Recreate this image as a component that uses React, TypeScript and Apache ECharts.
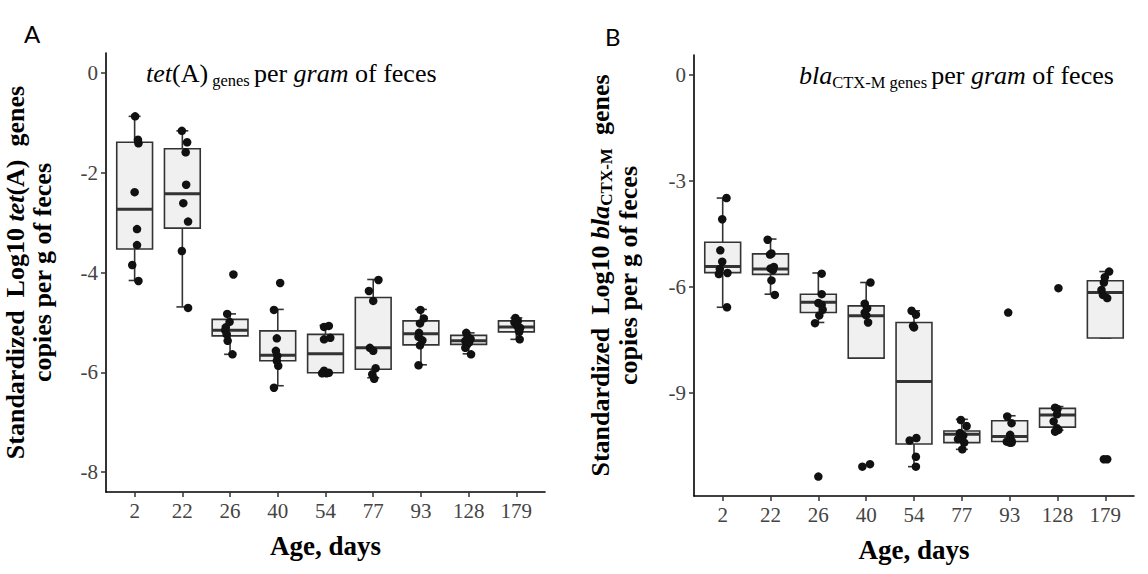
import React, { useEffect, useRef } from 'react';
import * as echarts from 'echarts';

const days = ['2', '22', '26', '40', '54', '77', '93', '128', '179'];

// Panel A: tet(A) box statistics
const aMin = [-4.16, -4.69, -5.64, -6.27, -6.02, -6.11, -5.85, -5.63, -5.34];
const aQ1 = [-3.53, -3.11, -5.27, -5.77, -6.01, -5.94, -5.45, -5.44, -5.19];
const aMed = [-2.73, -2.42, -5.16, -5.66, -5.63, -5.51, -5.23, -5.37, -5.09];
const aQ3 = [-1.39, -1.52, -4.94, -5.17, -5.24, -4.5, -4.97, -5.26, -4.97];
const aMax = [-0.87, -1.16, -4.83, -4.74, -5.06, -4.14, -4.74, -5.21, -4.91];

const aPoints = [
  [-0.87, -1.34, -1.41, -2.39, -3.13, -3.45, -3.85, -4.17],
  [-1.16, -1.39, -1.59, -2.24, -2.61, -2.98, -3.57, -4.71],
  [-4.04, -4.83, -4.99, -5.1, -5.16, -5.24, -5.37, -5.64],
  [-4.21, -4.75, -5.32, -5.57, -5.67, -5.77, -5.87, -6.31],
  [-5.09, -5.07, -5.34, -5.31, -5.97, -6.02, -6.01, -6.02],
  [-4.15, -4.37, -4.57, -5.51, -5.57, -5.92, -6.04, -6.13],
  [-4.75, -4.92, -5.02, -5.21, -5.29, -5.36, -5.46, -5.86],
  [-5.21, -5.29, -5.33, -5.37, -5.4, -5.44, -5.51, -5.64],
  [-4.91, -4.97, -5.0, -5.06, -5.11, -5.14, -5.19, -5.34],
];
const aJitter = [
  [0.01, 0.07, 0.08, 0.0, 0.05, 0.05, -0.05, 0.08],
  [-0.01, 0.1, 0.07, 0.08, 0.02, 0.12, -0.01, 0.12],
  [0.07, -0.06, -0.01, -0.09, -0.1, -0.07, -0.05, 0.05],
  [0.05, -0.08, -0.02, -0.04, -0.01, -0.02, 0.01, -0.08],
  [-0.03, 0.07, -0.03, 0.1, -0.03, 0.02, 0.07, -0.07],
  [0.11, -0.09, 0.0, -0.07, 0.0, 0.05, -0.02, 0.02],
  [-0.01, 0.06, -0.02, -0.04, -0.05, 0.03, -0.02, -0.05],
  [-0.05, -0.02, 0.04, -0.07, 0.01, -0.03, -0.07, 0.05],
  [-0.02, 0.03, -0.04, 0.01, 0.08, 0.05, 0.06, 0.07],
];

// Panel B: blaCTX-M box statistics
const bMin = [-6.57, -6.2, -7.0, -8.01, -11.08, -10.59, -10.4, -10.05, -7.44];
const bQ1 = [-5.59, -5.64, -6.72, -8.01, -10.44, -10.4, -10.37, -9.96, -7.44];
const bMed = [-5.42, -5.49, -6.43, -6.81, -8.67, -10.16, -10.23, -9.62, -6.15];
const bQ3 = [-4.73, -5.06, -6.2, -6.53, -7.0, -10.07, -9.78, -9.43, -5.82];
const bMax = [-3.48, -4.64, -5.6, -5.87, -6.67, -9.74, -9.64, -9.38, -5.56];

const bPoints = [
  [-3.48, -4.08, -4.96, -5.28, -5.49, -5.6, -5.63, -6.57],
  [-4.66, -5.05, -5.08, -5.43, -5.47, -5.52, -5.81, -6.22],
  [-5.62, -6.2, -6.45, -6.5, -6.64, -6.8, -7.02, -11.36],
  [-5.87, -6.47, -6.6, -6.72, -6.8, -7.0, -11.01, -11.08],
  [-6.67, -6.78, -7.1, -7.14, -10.27, -10.34, -10.8, -11.08],
  [-9.76, -9.93, -10.13, -10.2, -10.27, -10.3, -10.4, -10.59],
  [-6.72, -9.66, -9.85, -10.18, -10.35, -10.37, -10.4, -10.4],
  [-6.03, -9.41, -9.45, -9.6, -9.8, -9.99, -10.04, -10.09],
  [-5.56, -5.72, -5.87, -6.08, -6.22, -6.31, -10.87, -10.87],
];
const bJitter = [
  [0.08, -0.01, -0.05, -0.01, -0.06, 0.1, -0.08, 0.09],
  [-0.06, 0.02, -0.01, 0.07, 0.0, 0.05, 0.02, 0.09],
  [0.07, 0.07, 0.0, 0.07, 0.09, 0.02, -0.07, 0.0],
  [0.09, -0.03, 0.02, -0.03, 0.0, 0.04, 0.08, -0.08],
  [-0.05, 0.04, -0.02, 0.0, 0.05, -0.09, 0.04, 0.04],
  [-0.02, 0.1, -0.04, 0.03, -0.01, -0.08, 0.05, 0.01],
  [-0.03, -0.05, 0.04, 0.01, 0.04, -0.06, 0.0, 0.04],
  [0.02, -0.05, 0.0, -0.01, -0.08, -0.01, 0.02, -0.05],
  [0.08, -0.01, -0.03, -0.08, -0.05, 0.04, -0.03, 0.04],
];

const aYTicks = [-8, -6, -4, -2, 0];
const bYTicks = [-9, -6, -3, 0];
const xTicks = [0, 1, 2, 3, 4, 5, 6, 7, 8];

const SERIF = '"Liberation Serif", "Times New Roman", serif';

function boxRows(mn: number[], q1: number[], md: number[], q3: number[], mx: number[]) {
  return days.map((_, i) => [i, mn[i], q1[i], md[i], q3[i], mx[i]]);
}
function pointRows(pts: number[][], jit: number[][]) {
  const out: number[][] = [];
  pts.forEach((arr, i) => arr.forEach((v, k) => out.push([i + jit[i][k], v])));
  return out;
}

const renderBox = (params: any, api: any) => {
  const x = api.value(0);
  const mn = api.value(1);
  const q1 = api.value(2);
  const md = api.value(3);
  const q3 = api.value(4);
  const mx = api.value(5);
  const half = api.size([0.75, 0])[0] / 2;
  const cap = api.size([0.25, 0])[0] / 2;
  const c = api.coord([x, md])[0];
  const yMin = api.coord([x, mn])[1];
  const yQ1 = api.coord([x, q1])[1];
  const yMd = api.coord([x, md])[1];
  const yQ3 = api.coord([x, q3])[1];
  const yMax = api.coord([x, mx])[1];
  const stroke = '#333333';
  const children: any[] = [
    { type: 'line', shape: { x1: c, y1: yMax, x2: c, y2: yQ3 }, style: { stroke, lineWidth: 1.6 } },
    { type: 'line', shape: { x1: c, y1: yQ1, x2: c, y2: yMin }, style: { stroke, lineWidth: 1.6 } },
    { type: 'line', shape: { x1: c - cap, y1: yMax, x2: c + cap, y2: yMax }, style: { stroke, lineWidth: 1.6 } },
    { type: 'line', shape: { x1: c - cap, y1: yMin, x2: c + cap, y2: yMin }, style: { stroke, lineWidth: 1.6 } },
    {
      type: 'rect',
      shape: { x: c - half, y: yQ3, width: half * 2, height: yQ1 - yQ3 },
      style: { fill: '#f0f0f0', stroke, lineWidth: 1.6 },
    },
    { type: 'line', shape: { x1: c - half, y1: yMd, x2: c + half, y2: yMd }, style: { stroke, lineWidth: 3 } },
  ];
  return { type: 'group', children };
};

function xAxisCfg(gridIndex: number) {
  return {
    type: 'value',
    gridIndex,
    min: -0.6,
    max: 8.6,
    splitLine: { show: false },
    axisLine: { show: true, onZero: false, lineStyle: { color: '#000', width: 1.6 } },
    axisTick: { show: true, customValues: xTicks, length: 5, lineStyle: { color: '#333', width: 1.5 } },
    axisLabel: {
      customValues: xTicks,
      formatter: (v: number) => days[Math.round(v)] ?? '',
      color: '#444',
      fontFamily: SERIF,
      fontSize: 21,
      margin: 8,
    },
    name: 'Age, days',
    nameLocation: 'middle',
    nameGap: 40,
    nameTextStyle: { fontFamily: SERIF, fontWeight: 'bold', fontSize: 27, color: '#000' },
  };
}

function yAxisCfg(gridIndex: number, min: number, max: number, ticks: number[], name: string, rich: any, nameGap: number) {
  return {
    type: 'value',
    gridIndex,
    min,
    max,
    splitLine: { show: false },
    axisLine: { show: true, onZero: false, lineStyle: { color: '#000', width: 1.6 } },
    axisTick: { show: true, customValues: ticks, length: 5, lineStyle: { color: '#333', width: 1.5 } },
    axisLabel: {
      customValues: ticks,
      formatter: (v: number) => String(Math.round(v)),
      color: '#444',
      fontFamily: SERIF,
      fontSize: 21,
      margin: 8,
    },
    name,
    nameLocation: 'middle',
    nameGap,
    nameTextStyle: { fontFamily: SERIF, fontWeight: 'bold', fontSize: 26, color: '#000', lineHeight: 27, rich },
  };
}

const nameRich = {
  b: { fontFamily: SERIF, fontWeight: 'bold', fontSize: 26, color: '#000', lineHeight: 27 },
  i: { fontFamily: SERIF, fontWeight: 'bold', fontStyle: 'italic', fontSize: 26, color: '#000', lineHeight: 27 },
  s: { fontFamily: SERIF, fontWeight: 'bold', fontSize: 17, color: '#000', verticalAlign: 'bottom', lineHeight: 30 },
};

const titleRich = {
  n: { fontFamily: SERIF, fontWeight: 'normal', fontSize: 26, color: '#000', lineHeight: 28 },
  i: { fontFamily: SERIF, fontWeight: 'normal', fontSize: 26, fontStyle: 'italic', color: '#000', lineHeight: 28 },
  s: { fontFamily: SERIF, fontWeight: 'normal', fontSize: 16.5, color: '#000', verticalAlign: 'bottom', lineHeight: 32 },
};

export default function App() {
  const ref = useRef<HTMLDivElement>(null);
  useEffect(() => {
    if (!ref.current) return;
    const chart = echarts.init(ref.current, undefined, { renderer: 'svg' });
    chart.setOption({
      animation: false,
      backgroundColor: '#fff',
      title: [
        {
          text: '{i|tet}{n|(A)}{s| genes }{n|per }{i|gram}{n| of feces}',
          left: 141,
          top: 52,
          textStyle: { fontWeight: 'normal', rich: titleRich },
        },
        {
          text: '{i|bla}{s|CTX-M genes }{n|per }{i|gram}{n| of feces}',
          left: 794,
          top: 54,
          textStyle: { fontWeight: 'normal', rich: titleRich },
        },
        {
          text: 'A',
          left: 19,
          top: 16,
          textStyle: { fontFamily: 'Lato, "Open Sans", sans-serif', fontSize: 24, fontWeight: 'normal', color: '#000' },
        },
        {
          text: 'B',
          left: 600,
          top: 19,
          textStyle: { fontFamily: 'Lato, "Open Sans", sans-serif', fontSize: 24, fontWeight: 'normal', color: '#000' },
        },
      ],
      grid: [
        { left: 106, top: 53, width: 439, height: 439 },
        { left: 694, top: 55, width: 440, height: 441 },
      ],
      xAxis: [xAxisCfg(0), xAxisCfg(1)],
      yAxis: [
        yAxisCfg(0, -8.4, 0.4, aYTicks, '{b|Standardized  Log10 }{i|tet}{b|(A)  genes}\n{b|copies per g of feces}', nameRich, 50),
        yAxisCfg(1, -11.91, 0.567, bYTicks, '{b|Standardized  Log10 }{i|bla}{s|CTX-M}{b|  genes}\n{b|copies per g of feces}', nameRich, 52),
      ],
      series: [
        {
          type: 'custom',
          xAxisIndex: 0,
          yAxisIndex: 0,
          renderItem: renderBox,
          encode: { x: 0, y: [1, 2, 3, 4, 5] },
          data: boxRows(aMin, aQ1, aMed, aQ3, aMax),
          z: 2,
        },
        {
          type: 'scatter',
          xAxisIndex: 0,
          yAxisIndex: 0,
          symbolSize: 8.5,
          itemStyle: { color: '#111', opacity: 1 },
          data: pointRows(aPoints, aJitter),
          z: 3,
        },
        {
          type: 'custom',
          xAxisIndex: 1,
          yAxisIndex: 1,
          renderItem: renderBox,
          encode: { x: 0, y: [1, 2, 3, 4, 5] },
          data: boxRows(bMin, bQ1, bMed, bQ3, bMax),
          z: 2,
        },
        {
          type: 'scatter',
          xAxisIndex: 1,
          yAxisIndex: 1,
          symbolSize: 8.5,
          itemStyle: { color: '#111', opacity: 1 },
          data: pointRows(bPoints, bJitter),
          z: 3,
        },
      ],
    });
    return () => chart.dispose();
  }, []);
  return (
    <div
      ref={ref}
      style={{ position: 'fixed', left: 0, top: 0, width: 1148, height: 574, background: '#fff' }}
    />
  );
}
